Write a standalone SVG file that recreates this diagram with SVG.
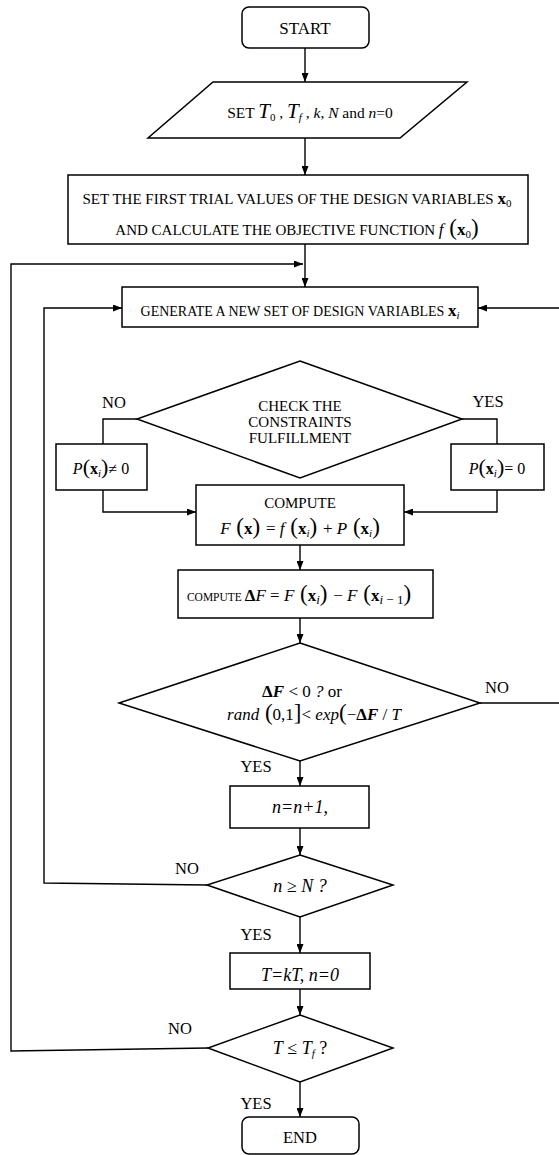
<svg xmlns="http://www.w3.org/2000/svg" width="559" height="1155" viewBox="0 0 559 1155">
<style>
.b{fill:#fff;stroke:#000;stroke-width:1.5}
.l{fill:none;stroke:#000;stroke-width:1.4}
.a{marker-end:url(#ah)}
text{font-family:"Liberation Serif","Times New Roman",serif;fill:#000}
.t{font-size:15px}
.s{font-size:11px}
.lb{font-size:16.5px}
.m{font-size:17px}
.i{font-style:italic}
.bd{font-weight:bold}
.p{font-size:23px}
</style>
<defs>
<marker id="ah" viewBox="0 0 9 7" refX="9" refY="3.5" markerWidth="9" markerHeight="7" markerUnits="userSpaceOnUse" orient="auto">
<path d="M0,0 L9,3.5 L0,7 z" fill="#000"/>
</marker>
</defs>
<g id="connectors">
<line class="l a" x1="305" y1="48" x2="305" y2="82"/>
<line class="l a" x1="305" y1="138" x2="305" y2="175"/>
<line class="l a" x1="305" y1="244" x2="305" y2="287"/>
<polyline class="l a" points="208,1048 11,1051 11,264 303,264"/>
<polyline class="l a" points="207,885 44,883 44,308 122,308"/>
<polyline class="l a" points="480,703 561,703 561,308 478,308"/>
<polyline class="l" points="137,419 103,419 103,444"/>
<polyline class="l a" points="103,490 103,512 196,512"/>
<polyline class="l" points="462,419 497,419 497,444"/>
<polyline class="l a" points="497,490 497,512 404,512"/>
<line class="l a" x1="300" y1="545" x2="300" y2="570"/>
<line class="l a" x1="300" y1="618" x2="300" y2="643"/>
<line class="l a" x1="300" y1="761" x2="300" y2="786"/>
<line class="l a" x1="300" y1="828" x2="300" y2="855"/>
<line class="l a" x1="300" y1="917" x2="300" y2="953"/>
<line class="l a" x1="300" y1="989" x2="300" y2="1015"/>
<line class="l a" x1="300" y1="1082" x2="300" y2="1117"/>
</g>
<g id="labels">
<text class="lb" x="114" y="408" text-anchor="middle">NO</text>
<text class="lb" x="488" y="407" text-anchor="middle">YES</text>
<text class="lb" x="497" y="693" text-anchor="middle">NO</text>
<text class="lb" x="256" y="772" text-anchor="middle">YES</text>
<text class="lb" x="187" y="874" text-anchor="middle">NO</text>
<text class="lb" x="256" y="940" text-anchor="middle">YES</text>
<text class="lb" x="180" y="1034" text-anchor="middle">NO</text>
<text class="lb" x="256" y="1109" text-anchor="middle">YES</text>
</g>
<g id="start">
<rect class="b" x="242" y="7" width="127" height="41" rx="7"/>
<text x="305" y="34" text-anchor="middle" style="font-size:17px">START</text>
</g>
<g id="set-params">
<polygon class="b" points="213,82 467,82 400,138 148,138"/>
<text x="310" y="117.5" text-anchor="middle" style="font-size:15.5px">SET  <tspan class="i" style="font-size:21px">T</tspan><tspan class="s" dy="3">0</tspan><tspan dy="-3">  ,  </tspan><tspan class="i" style="font-size:21px">T</tspan><tspan class="s i" dy="3">f</tspan><tspan dy="-3">   , </tspan><tspan class="i">k</tspan>, <tspan class="i">N</tspan> and <tspan class="i">n</tspan>=0</text>
</g>
<g id="init">
<rect class="b" x="68" y="175" width="460" height="69"/>
<text class="t" x="297" y="204" text-anchor="middle">SET THE FIRST TRIAL VALUES OF THE DESIGN VARIABLES  <tspan class="m bd">x</tspan><tspan class="s" dy="3">0</tspan></text>
<text class="t" x="297" y="235" text-anchor="middle">AND CALCULATE THE OBJECTIVE FUNCTION  <tspan class="m i">f</tspan><tspan class="p"> (</tspan><tspan class="m bd">x</tspan><tspan class="s" dy="3">0</tspan><tspan class="p" dy="-3">)</tspan></text>
</g>
<g id="generate">
<rect class="b" x="122" y="287" width="356" height="40"/>
<text x="300" y="316" text-anchor="middle" style="font-size:14px">GENERATE A NEW SET OF DESIGN VARIABLES  <tspan class="m bd">x</tspan><tspan class="s i" dy="3">i</tspan></text>
</g>
<g id="check">
<polygon class="b" points="300,361 462,419 300,478 137,419"/>
<text class="t" x="300" y="411" text-anchor="middle">CHECK THE</text>
<text class="t" x="300" y="427" text-anchor="middle">CONSTRAINTS</text>
<text class="t" x="300" y="443" text-anchor="middle">FULFILLMENT</text>
</g>
<g id="penalty-nonzero">
<rect class="b" x="56" y="444" width="91" height="46"/>
<text x="101" y="474" text-anchor="middle" style="font-size:16px"><tspan class="i">P</tspan><tspan style="font-size:22px">(</tspan><tspan class="bd">x</tspan><tspan class="s i" dy="3">i</tspan><tspan style="font-size:22px" dy="-3">)</tspan>≠ 0</text>
</g>
<g id="penalty-zero">
<rect class="b" x="451" y="444" width="93" height="46"/>
<text x="497" y="474" text-anchor="middle" style="font-size:16px"><tspan class="i">P</tspan><tspan style="font-size:22px">(</tspan><tspan class="bd">x</tspan><tspan class="s i" dy="3">i</tspan><tspan style="font-size:22px" dy="-3">)</tspan>= 0</text>
</g>
<g id="compute-F">
<rect class="b" x="196" y="485" width="208" height="60"/>
<text class="t" x="300" y="508" text-anchor="middle">COMPUTE</text>
<text class="m" x="300" y="534" text-anchor="middle"><tspan class="i">F</tspan><tspan class="p"> (</tspan><tspan class="bd">x</tspan><tspan class="p">) </tspan>= <tspan class="i">f</tspan><tspan class="p"> (</tspan><tspan class="bd">x</tspan><tspan class="s i" dy="3">i</tspan><tspan class="p" dy="-3">) </tspan>+ <tspan class="i">P</tspan><tspan class="p"> (</tspan><tspan class="bd">x</tspan><tspan class="s i" dy="3">i</tspan><tspan class="p" dy="-3">)</tspan></text>
</g>
<g id="compute-dF">
<rect class="b" x="178" y="570" width="255" height="48"/>
<text class="m" x="299" y="601" text-anchor="middle"><tspan style="font-size:11.5px">COMPUTE   </tspan> <tspan class="bd">Δ</tspan><tspan class="i">F</tspan> = <tspan class="i">F</tspan><tspan class="p"> (</tspan><tspan class="bd">x</tspan><tspan class="i" style="font-size:13px" dy="3">i</tspan><tspan class="p" dy="-3">) </tspan>− <tspan class="i">F</tspan><tspan class="p"> (</tspan><tspan class="bd">x</tspan><tspan class="i" style="font-size:13px" dy="3">i</tspan><tspan style="font-size:13px"> − 1</tspan><tspan class="p" dy="-3">)</tspan></text>
</g>
<g id="accept">
<polygon class="b" points="300,643 480,703 300,761 119,703"/>
<text class="m" x="302" y="697" text-anchor="middle"><tspan class="bd">Δ</tspan><tspan class="i bd">F</tspan> &lt; 0 <tspan class="i">?</tspan> or</text>
<text class="m" x="314" y="720" text-anchor="middle"><tspan class="i">rand</tspan><tspan class="p"> (</tspan>0,1<tspan class="p">]</tspan>&lt; <tspan class="i">exp</tspan><tspan class="p">(</tspan>−<tspan class="bd">Δ</tspan><tspan class="i bd">F</tspan> / <tspan class="i">T</tspan></text>
</g>
<g id="increment">
<rect class="b" x="230" y="786" width="139" height="42"/>
<text class="i" x="300" y="813" text-anchor="middle" style="font-size:18px">n=n+1,</text>
</g>
<g id="check-n">
<polygon class="b" points="300,855 393,885 300,917 207,885"/>
<text class="i" x="300" y="892" text-anchor="middle" style="font-size:18px">n ≥ N ?</text>
</g>
<g id="cool">
<rect class="b" x="230" y="953" width="140" height="36"/>
<text class="i" x="300" y="981" text-anchor="middle" style="font-size:18px">T=kT, n=0</text>
</g>
<g id="check-T">
<polygon class="b" points="300,1015 393,1048 300,1082 208,1048"/>
<text x="300" y="1054" text-anchor="middle" style="font-size:18px"><tspan class="i">T</tspan> ≤ <tspan class="i">T</tspan><tspan class="s i" dy="3">f</tspan><tspan dy="-3"> ?</tspan></text>
</g>
<g id="end">
<rect class="b" x="242" y="1117" width="117" height="37" rx="7"/>
<text x="300" y="1143" text-anchor="middle" style="font-size:16.5px">END</text>
</g>
</svg>
